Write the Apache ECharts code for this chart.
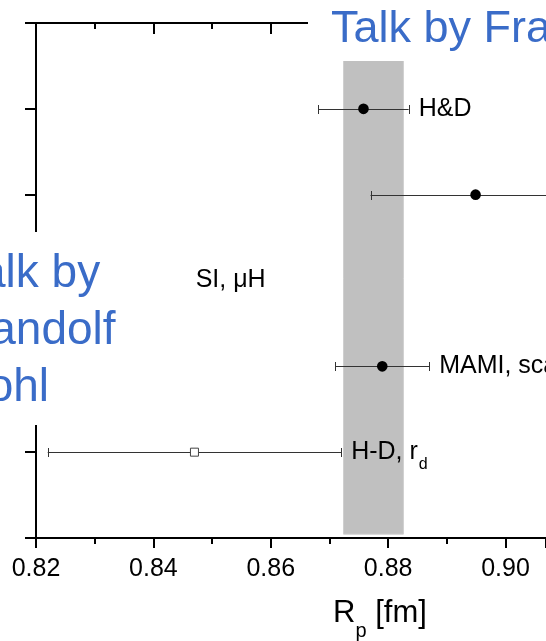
<!DOCTYPE html>
<html><head><meta charset="utf-8">
<script src="https://cdn.jsdelivr.net/npm/echarts@6/dist/echarts.min.js"></script>
<style>html,body{margin:0;padding:0;background:#fff}#c{width:546px;height:641px}</style>
</head><body><div id="c"></div>
<script>
// ---- data ----
const rows        = [5, 4, 3, 2, 1];
const centers     = [0.8758, 0.8949, 0.8472, 0.879, 0.847];
const errLow      = [0.0077, 0.0179, null, 0.008, 0.025];
const errHigh     = [0.0077, 0.0179, null, 0.008, 0.025];
const markerKind  = ['dot', 'dot', 'none', 'dot', 'square'];
const labelMain   = ['H&D', '', 'SI, \u03bcH', 'MAMI, scattering', 'H-D, r'];
const labelSub    = ['', '', '', '', 'd'];
const bandRange   = [0.8724, 0.8826];
const xMin = 0.82, xMax = 0.9069, xStep = 0.02;
const yMin = 0, yMax = 6, yStep = 1;
const xTitleMain = 'R', xTitleSub = 'p', xTitleRest = ' [fm]';
const noteTop = 'Talk by Fran';
const noteLeft = 'Talk by\nRandolf\nPohl';

const FONT = '"Liberation Sans", Arial, sans-serif';
const BLUE = '#3a6cc8';
const LABEL_SIZE = 25;
const mctx = document.createElement('canvas').getContext('2d');
function textW(t, size) { mctx.font = size + 'px "Liberation Sans"'; return mctx.measureText(t).width; }

const seriesData = rows.map((r, i) => [
  centers[i], r,
  errLow[i] == null ? null : centers[i] - errLow[i],
  errHigh[i] == null ? null : centers[i] + errHigh[i],
  i
]);

function renderItem(params, api) {
  const i = api.value(4);
  const y = api.value(1);
  const c = api.coord([api.value(0), y]);
  const children = [];
  let labelX = c[0];
  const lo = api.value(2), hi = api.value(3);
  if (lo != null && hi != null && !isNaN(lo) && !isNaN(hi)) {
    const p1 = api.coord([lo, y]), p2 = api.coord([hi, y]);
    const yy = Math.round(p1[1]) + 0.5;
    children.push({ type: 'line', shape: { x1: p1[0], y1: yy, x2: p2[0], y2: yy }, style: { stroke: '#333', lineWidth: 1 } });
    children.push({ type: 'line', shape: { x1: Math.round(p1[0]) + 0.5, y1: yy - 4.5, x2: Math.round(p1[0]) + 0.5, y2: yy + 4.5 }, style: { stroke: '#333', lineWidth: 1 } });
    children.push({ type: 'line', shape: { x1: Math.round(p2[0]) + 0.5, y1: yy - 4.5, x2: Math.round(p2[0]) + 0.5, y2: yy + 4.5 }, style: { stroke: '#333', lineWidth: 1 } });
    labelX = p2[0] + 10;
  }
  const kind = markerKind[i];
  if (kind === 'dot') {
    children.push({ type: 'circle', shape: { cx: c[0], cy: c[1], r: 5.3 }, style: { fill: '#000' } });
  } else if (kind === 'square') {
    children.push({ type: 'rect', shape: { x: c[0] - 4, y: c[1] - 4, width: 8, height: 8 }, style: { fill: '#fff', stroke: '#444', lineWidth: 1 } });
  }
  if (labelMain[i]) {
    children.push({ type: 'text', x: labelX, y: c[1], style: { text: labelMain[i], fill: '#000', font: LABEL_SIZE + 'px ' + FONT, align: 'left', verticalAlign: 'middle' } });
    if (labelSub[i]) {
      children.push({ type: 'text', x: labelX + textW(labelMain[i], LABEL_SIZE) + 1, y: c[1] + 12, style: { text: labelSub[i], fill: '#000', font: '16px ' + FONT, align: 'left', verticalAlign: 'middle' } });
    }
  }
  return { type: 'group', children };
}

const chart = echarts.init(document.getElementById('c'), null, { renderer: 'canvas' });
const axisLineStyle = { color: '#000', width: 2 };
chart.setOption({
  animation: false,
  backgroundColor: '#fff',
  grid: { left: 36, right: 0, top: 23, bottom: 103, containLabel: false, outerBoundsMode: 'none' },
  xAxis: [{
    type: 'value', position: 'bottom', min: xMin, max: xMax, interval: xStep,
    axisLine: { show: true, lineStyle: axisLineStyle },
    axisTick: { show: true, length: 10, lineStyle: { color: '#000', width: 2 } },
    minorTick: { show: true, splitNumber: 2, length: 6, lineStyle: { color: '#000', width: 2 } },
    splitLine: { show: false }, minorSplitLine: { show: false },
    axisLabel: { margin: 19, fontSize: 25, fontFamily: FONT, color: '#000', formatter: v => v.toFixed(2), showMaxLabel: false },
    name: '{m|' + xTitleMain + '}{s|' + xTitleSub + '}{m|' + xTitleRest + '}',
    nameLocation: 'middle', nameGap: 60,
    nameTextStyle: {
      padding: [0, 0, 0, 178],
      rich: {
        m: { fontSize: 31, fontFamily: FONT, color: '#000', lineHeight: 34, verticalAlign: 'top' },
        s: { fontSize: 20, fontFamily: FONT, color: '#000', lineHeight: 20, verticalAlign: 'top', padding: [23, 0, 0, 0] }
      }
    }
  }, {
    type: 'value', position: 'top', min: xMin, max: xMax, interval: xStep,
    axisLine: { show: true, lineStyle: axisLineStyle },
    axisTick: { show: true, inside: true, length: 11, lineStyle: { color: '#000', width: 2 } },
    minorTick: { show: true, splitNumber: 2, length: 6, lineStyle: { color: '#000', width: 2 } },
    splitLine: { show: false }, axisLabel: { show: false }
  }],
  yAxis: {
    type: 'value', min: yMin, max: yMax, interval: yStep,
    axisLine: { show: true, lineStyle: axisLineStyle },
    axisTick: { show: true, length: 11, lineStyle: { color: '#000', width: 2 } },
    axisLabel: { show: false }, splitLine: { show: false }
  },
  series: [{
    type: 'line', data: [], silent: true, z: 1,
    markArea: {
      silent: true,
      itemStyle: { color: '#c0c0c0', borderColor: '#cfcfcf', borderWidth: 1 },
      data: [[{ xAxis: bandRange[0], yAxis: 0.045 }, { xAxis: bandRange[1], yAxis: yMax }]]
    }
  }, {
    type: 'custom', renderItem, data: seriesData, clip: false, z: 5, silent: true,
    encode: { x: [0, 2, 3], y: 1 }
  }],
  graphic: [
    { type: 'rect', z: 100, shape: { x: 308, y: 0, width: 240, height: 61 }, style: { fill: '#fff' } },
    { type: 'text', z: 101, x: 331, y: 30, style: { text: noteTop, fill: BLUE, font: '45px ' + FONT, verticalAlign: 'middle', align: 'left' } },
    { type: 'rect', z: 100, shape: { x: 0, y: 232, width: 140, height: 193 }, style: { fill: '#fff' } },
    { type: 'text', z: 101, x: -43, y: 246, style: { text: noteLeft, fill: BLUE, font: '46px ' + FONT, lineHeight: 57, verticalAlign: 'top', align: 'left' } }
  ]
});
</script>
</body></html>
